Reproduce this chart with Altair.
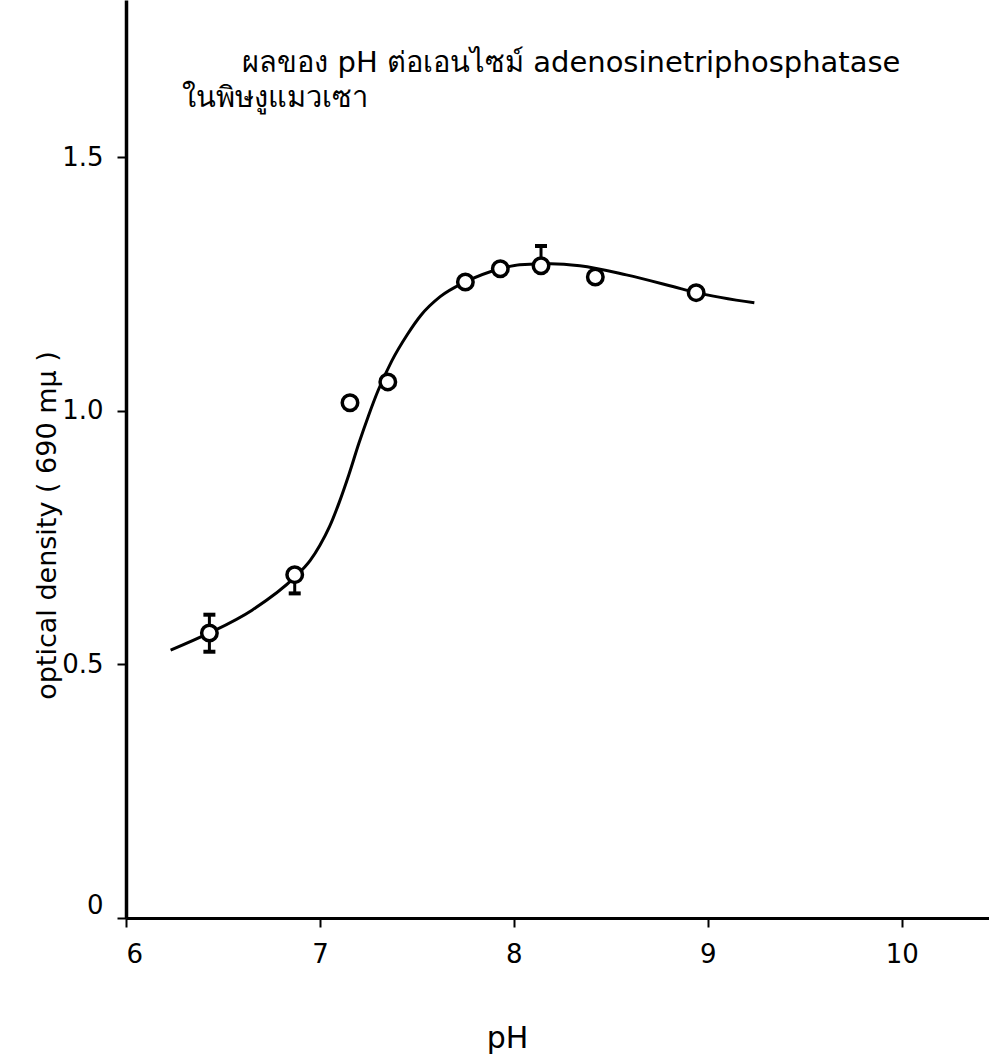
import altair as alt
import pandas as pd

# measured points
ph = [6.43, 6.87, 7.155, 7.35, 7.75, 7.93, 8.14, 8.42, 8.94]
od = [0.562, 0.677, 1.016, 1.057, 1.254, 1.280, 1.286, 1.264, 1.233]

# error bars
err_ph = [6.43, 6.87, 8.14]
err_lo = [0.525, 0.640, 1.286]
err_hi = [0.598, 0.677, 1.325]
cap_lo_ph = [6.43, 6.87]
cap_lo = [0.525, 0.640]
cap_hi_ph = [6.43, 8.14]
cap_hi = [0.598, 1.325]

# fitted curve
curve_ph = [6.23, 6.43, 6.65, 6.87, 6.95, 7.0, 7.05, 7.1, 7.15, 7.2, 7.25, 7.3, 7.37,
            7.45, 7.52, 7.62, 7.75, 7.93, 8.03, 8.19, 8.34, 8.58, 8.82, 8.94, 9.24]
curve_od = [0.528, 0.562, 0.607, 0.672, 0.705, 0.735, 0.772, 0.82, 0.875, 0.935, 0.99, 1.04, 1.098,
            1.150, 1.188, 1.225, 1.254, 1.280, 1.288, 1.290, 1.286, 1.268, 1.245, 1.233, 1.213]

title_lines = ["ผลของ pH ต่อเอนไซม์ adenosinetriphosphatase", "ในพิษงูแมวเซา"]
title_ph = [6.6, 6.29]
title_od = [1.668, 1.600]

x_ticks = [6, 7, 8, 9, 10]
y_ticks = [0, 0.5, 1.0, 1.5]

FONT = "DejaVu Sans"
xs = alt.Scale(domain=[6, 10.45], nice=False, zero=False)
ys = alt.Scale(domain=[0, 1.81], nice=False, zero=False)

pts = pd.DataFrame({"ph": ph, "od": od})
errs = pd.DataFrame({"ph": err_ph, "lo": err_lo, "hi": err_hi})
caps_l = pd.DataFrame({"ph": cap_lo_ph, "od": cap_lo})
caps_h = pd.DataFrame({"ph": cap_hi_ph, "od": cap_hi})
crv = pd.DataFrame({"ph": curve_ph, "od": curve_od})
ttl = pd.DataFrame({"ph": title_ph, "od": title_od, "t": title_lines})

xaxis = alt.Axis(values=x_ticks, format="d", grid=False, domainColor="black", domainWidth=3,
                 tickColor="black", tickWidth=2, tickSize=9, labelFontSize=26, labelColor="black",
                 labelFont=FONT, labelPadding=14, labelFlush=True,
                 title="pH", titleFontSize=30, titleFont=FONT, titleFontWeight="normal",
                 titleColor="black", titleX=381, titleY=120, titleAlign="center", titleBaseline="middle")
yaxis = alt.Axis(values=y_ticks, grid=False, domainColor="black", domainWidth=3.5,
                 tickColor="black", tickWidth=2, tickSize=9, labelFontSize=26, labelColor="black",
                 labelFont=FONT, labelPadding=14, labelFlush=True,
                 labelExpr="datum.value == 0 ? '0' : format(datum.value, '.1f')",
                 title="optical density ( 690 mμ )", titleFontSize=27, titleFont=FONT,
                 titleFontWeight="normal", titleColor="black", titleX=-79, titleY=525,
                 titleAlign="center", titleBaseline="middle")

line = alt.Chart(crv).mark_line(color="black", strokeWidth=3, interpolate="monotone").encode(
    x=alt.X("ph:Q", scale=xs, axis=xaxis),
    y=alt.Y("od:Q", scale=ys, axis=yaxis),
)
rules = alt.Chart(errs).mark_rule(color="black", strokeWidth=3, opacity=1).encode(
    x=alt.X("ph:Q", scale=xs), y=alt.Y("lo:Q", scale=ys), y2="hi:Q")
capl = alt.Chart(caps_l).mark_tick(color="black", orient="horizontal", size=12, thickness=4,
                                   opacity=1).encode(
    x=alt.X("ph:Q", scale=xs), y=alt.Y("od:Q", scale=ys))
caph = alt.Chart(caps_h).mark_tick(color="black", orient="horizontal", size=12, thickness=4,
                                   opacity=1).encode(
    x=alt.X("ph:Q", scale=xs), y=alt.Y("od:Q", scale=ys))
circ = alt.Chart(pts).mark_point(shape="circle", size=240, filled=False, fill="white", fillOpacity=1,
                                 stroke="black", strokeWidth=3.5, opacity=1).encode(
    x=alt.X("ph:Q", scale=xs), y=alt.Y("od:Q", scale=ys))
txt = alt.Chart(ttl).mark_text(align="left", baseline="alphabetic", fontSize=29, font=FONT,
                               color="black").encode(
    x=alt.X("ph:Q", scale=xs), y=alt.Y("od:Q", scale=ys), text="t:N")

chart = alt.layer(line, rules, capl, caph, circ, txt).properties(
    width=863, height=918,
    background="white",
    autosize=alt.AutoSizeParams(type="none"),
    padding={"left": 126, "top": 0, "right": 0, "bottom": 145},
).configure_view(stroke=None, strokeWidth=0)

chart.save("out.html", embed_options={"renderer": "svg", "actions": False})
